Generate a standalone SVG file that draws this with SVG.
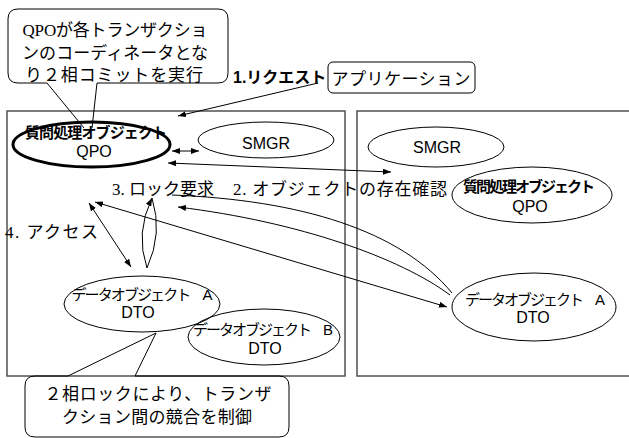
<svg xmlns="http://www.w3.org/2000/svg" width="629" height="438" viewBox="0 0 629 438">
<style>
.bg{fill:#fff}
.box{fill:none;stroke:#505050;stroke-width:1.5}
.sh{fill:none;stroke:#000;stroke-width:1}
.bold{fill:none;stroke:#000;stroke-width:3}
.ln{fill:none;stroke:#000;stroke-width:1}
.mj{font-family:"Liberation Serif","Noto Sans CJK JP",serif;font-size:17px;fill:#000}
.go{font-family:"Liberation Sans","Noto Sans CJK JP",sans-serif;font-size:15px;fill:#000}
.la{font-family:"Liberation Sans","Noto Sans CJK JP",sans-serif;font-size:16px;fill:#000}
.b{font-weight:bold}
</style>
<defs>
<marker id="ah" markerUnits="userSpaceOnUse" markerWidth="8" markerHeight="6" refX="8" refY="3" orient="auto-start-reverse">
<path d="M0,0 L8,3 L0,6 z" fill="#000"/>
</marker>
</defs>
<rect class="bg" x="0" y="0" width="629" height="438"/>

<g id="left-system">
<rect class="box" x="7" y="111" width="338" height="265"/>
</g>
<g id="right-system">
<rect class="box" x="357" y="111" width="290" height="265"/>
</g>

<g id="callout-qpo">
<path class="sh" d="M97,83 H218 Q228,83 228,73 V19 Q228,9 218,9 H18 Q8,9 8,19 V73 Q8,83 18,83 H47 L84,128 M97,83 L92,128"/>
<text class="mj" x="115" y="36" text-anchor="middle" textLength="185">QPOが各トランザクショ</text>
<text class="mj" x="115" y="59" text-anchor="middle" textLength="186">ンのコーディネータとな</text>
<text class="mj" x="114" y="81" text-anchor="middle" textLength="178">り２相コミットを実行</text>
</g>

<g id="request-label">
<text class="la b" x="233" y="83" font-size="15">1.リクエスト</text>
</g>

<g id="application">
<rect class="sh" x="328" y="62" width="147" height="31" rx="5"/>
<text class="mj" x="401" y="85" text-anchor="middle" textLength="139">アプリケーション</text>
</g>

<g id="qpo-left">
<ellipse class="bold" cx="91.5" cy="144.5" rx="78.5" ry="22.5"/>
<text class="go b" x="96" y="138" text-anchor="middle" textLength="142">質問処理オブジェクト</text>
<text class="la" x="94" y="157" text-anchor="middle">QPO</text>
</g>

<g id="smgr-left">
<ellipse class="sh" cx="266" cy="140" rx="68" ry="18"/>
<text class="la" x="266" y="149" text-anchor="middle" font-size="17">SMGR</text>
</g>

<g id="smgr-right">
<ellipse class="sh" cx="436" cy="147" rx="68" ry="20"/>
<text class="la" x="437" y="153" text-anchor="middle" font-size="17">SMGR</text>
</g>

<g id="qpo-right">
<ellipse class="sh" cx="532" cy="195" rx="80" ry="28"/>
<text class="go b" x="529" y="192" text-anchor="middle" textLength="132">質問処理オブジェクト</text>
<text class="la" x="530" y="212" text-anchor="middle">QPO</text>
</g>

<g id="dto-a-left">
<ellipse class="sh" cx="142" cy="304" rx="78" ry="28"/>
<text class="go" x="142" y="300" text-anchor="middle" textLength="141">データオブジェクト　A</text>
<text class="la" x="138" y="318" text-anchor="middle">DTO</text>
</g>

<g id="dto-b-left">
<ellipse class="sh" cx="264" cy="337" rx="76" ry="28"/>
<text class="go" x="263" y="335" text-anchor="middle" textLength="140">データオブジェクト　B</text>
<text class="la" x="265" y="354" text-anchor="middle">DTO</text>
</g>

<g id="dto-a-right">
<ellipse class="sh" cx="534" cy="307" rx="82" ry="34"/>
<text class="go" x="535" y="305" text-anchor="middle" textLength="140">データオブジェクト　A</text>
<text class="la" x="533" y="323" text-anchor="middle">DTO</text>
</g>

<g id="labels">
<text class="mj" x="112" y="195" font-size="17.5">3. ロック要求</text>
<text class="mj" x="233" y="195" textLength="214">2. オブジェクトの存在確認</text>
<text class="mj" x="5" y="238" textLength="93">4. アクセス</text>
</g>

<g id="callout-lock">
<path class="sh" d="M135,376 H279 Q289,376 289,386 V427 Q289,437 279,437 H35 Q25,437 25,427 V386 Q25,376 35,376 H68 L156,333 L135,376"/>
<text class="mj" x="158" y="400" text-anchor="middle" textLength="227">２相ロックにより、トランザ</text>
<text class="mj" x="157" y="423" text-anchor="middle" textLength="190">クション間の競合を制御</text>
</g>

<g id="connectors">
<path class="ln" d="M318,83 L178,116" marker-end="url(#ah)"/>
<path class="ln" d="M172,151 L199,151" marker-start="url(#ah)" marker-end="url(#ah)"/>
<path class="ln" d="M168,163 L391,172" marker-start="url(#ah)" marker-end="url(#ah)"/>
<path class="ln" d="M89,203 L131,267" marker-start="url(#ah)" marker-end="url(#ah)"/>
<path class="ln" d="M95,202 L447,307" marker-start="url(#ah)" marker-end="url(#ah)"/>
<path class="ln" d="M147,268 Q135,233 152,198" marker-end="url(#ah)"/>
<path class="ln" d="M147,268 Q163,233 152,198"/>
<path class="ln" d="M172,195 C300,200 400,230 452,293"/>
<path class="ln" d="M450,295 C400,258 300,222 178,207" marker-end="url(#ah)"/>
</g>
</svg>
